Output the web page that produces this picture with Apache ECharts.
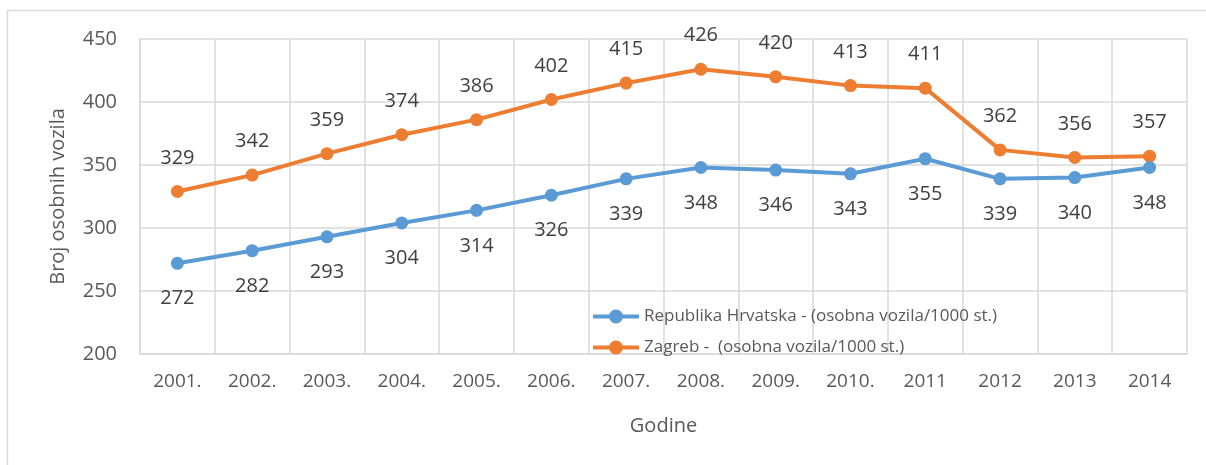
<!DOCTYPE html>
<html>
<head>
<meta charset="utf-8">
<script src="https://cdn.jsdelivr.net/npm/echarts@6/dist/echarts.min.js"></script>
<style>
  html, body { margin: 0; padding: 0; background: #fff; }
  #chart { width: 1206px; height: 465px; }
</style>
</head>
<body>
<div id="chart"></div>
<script>
// godine (x os)
const years = ['2001.', '2002.', '2003.', '2004.', '2005.', '2006.', '2007.', '2008.', '2009.', '2010.', '2011', '2012', '2013', '2014'];
// broj osobnih vozila na 1000 stanovnika
const hrvatska = [272, 282, 293, 304, 314, 326, 339, 348, 346, 343, 355, 339, 340, 348];
const zagreb = [329, 342, 359, 374, 386, 402, 415, 426, 420, 413, 411, 362, 356, 357];
const seriesNames = ['Republika Hrvatska - (osobna vozila/1000 st.)', 'Zagreb -  (osobna vozila/1000 st.)'];

const textColor = '#595959';
const gridColor = '#d9d9d9';
const font = 'Open Sans';
// legend icon: thick line with a dot in the middle
const lineDotIcon = 'path://M0,5H46V9H0Z M16,7a7,7 0 1,1 14,0a7,7 0 1,1 -14,0Z';

const chart = echarts.init(document.getElementById('chart'));
chart.setOption({
  animation: false,
  textStyle: { fontFamily: font },
  graphic: [
    {
      type: 'rect',
      shape: { x: 7.5, y: 10.5, width: 1230, height: 500 },
      style: { fill: 'none', stroke: gridColor, lineWidth: 1.5 },
      silent: true,
    },
  ],
  grid: {
    left: 140,
    right: 19,
    top: 39,
    bottom: 111,
  },
  legend: {
    orient: 'vertical',
    left: 588,
    top: 303,
    itemWidth: 46,
    itemHeight: 14,
    itemGap: 14,
    icon: lineDotIcon,
    textStyle: { color: textColor, fontSize: 17, fontFamily: font },
    data: seriesNames,
  },
  xAxis: {
    type: 'category',
    data: years,
    boundaryGap: true,
    name: 'Godine',
    nameLocation: 'middle',
    nameGap: 62,
    nameTextStyle: { color: textColor, fontSize: 20 },
    axisLine: { lineStyle: { color: gridColor, width: 1.5 } },
    axisTick: { show: false },
    axisLabel: { color: textColor, fontSize: 19, margin: 18, interval: 0 },
    splitLine: { show: true, interval: 0, lineStyle: { color: gridColor, width: 1.5 } },
  },
  yAxis: {
    type: 'value',
    min: 200,
    max: 450,
    interval: 50,
    name: 'Broj osobnih vozila',
    nameLocation: 'middle',
    nameGap: 72,
    nameTextStyle: { color: textColor, fontSize: 20 },
    axisLine: { show: true, lineStyle: { color: gridColor, width: 1.5 } },
    axisTick: { show: false },
    axisLabel: { color: textColor, fontSize: 20, margin: 23 },
    splitLine: { show: true, lineStyle: { color: gridColor, width: 1.5 } },
  },
  series: [
    {
      name: seriesNames[0],
      type: 'line',
      data: hrvatska,
      symbol: 'circle',
      symbolSize: 13,
      lineStyle: { color: '#5b9bd5', width: 4 },
      itemStyle: { color: '#5b9bd5' },
      label: { show: true, position: 'bottom', distance: 19, color: '#404040', fontSize: 20 },
      z: 3,
    },
    {
      name: seriesNames[1],
      type: 'line',
      data: zagreb,
      symbol: 'circle',
      symbolSize: 13,
      lineStyle: { color: '#ed7d31', width: 4 },
      itemStyle: { color: '#ed7d31' },
      label: { show: true, position: 'top', distance: 17, color: '#404040', fontSize: 20 },
      z: 2,
    },
  ],
});
</script>
</body>
</html>
